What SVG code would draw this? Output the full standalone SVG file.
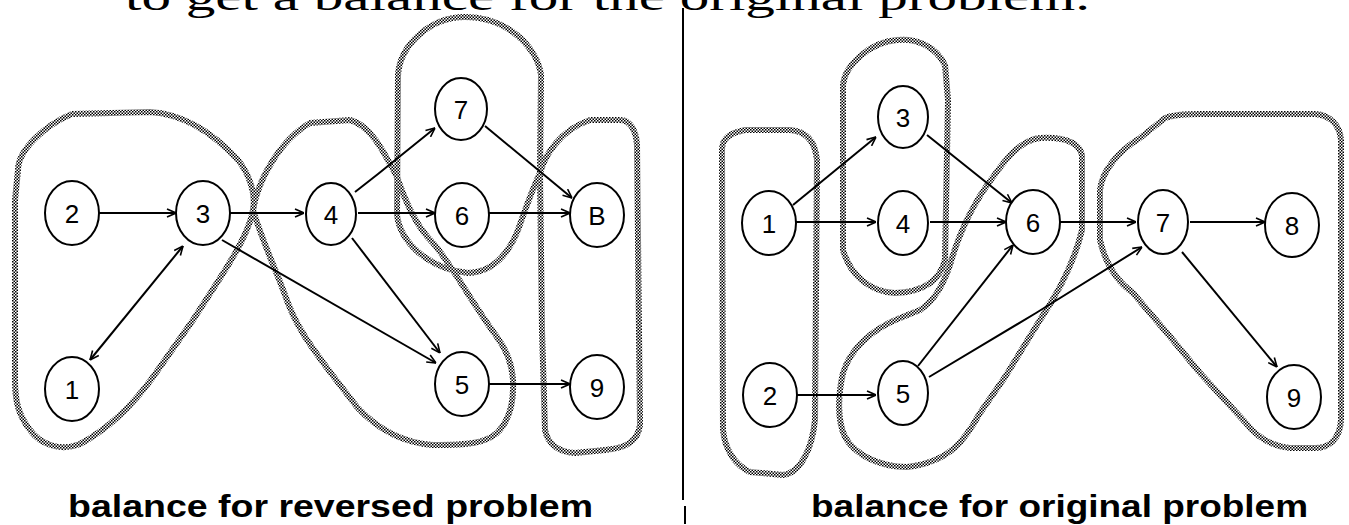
<svg xmlns="http://www.w3.org/2000/svg" width="1349" height="525" viewBox="0 0 1349 525">
<style>
.blob{fill:none;stroke:url(#chk);stroke-width:6;stroke-linejoin:round;stroke-linecap:round}
.edge{fill:none;stroke:#000;stroke-width:2;marker-end:url(#ah)}
.node ellipse{fill:#fff;stroke:#000;stroke-width:2}
.node text{font-family:"Liberation Sans",Arial,sans-serif;font-size:26px;text-anchor:middle;fill:#000}
.cap{font-family:"Liberation Sans",Arial,sans-serif;font-weight:bold;font-size:32px;fill:#000}
.top{font-family:"Liberation Serif","Times New Roman",serif;font-size:38px;fill:#000}
</style>
<defs>
<pattern id="chk" width="3" height="3" patternUnits="userSpaceOnUse">
<rect width="3" height="3" fill="#fff"/>
<rect width="1.5" height="1.5" fill="#000"/>
<rect x="1.5" y="1.5" width="1.5" height="1.5" fill="#000"/>
</pattern>
<marker id="ah" viewBox="0 0 10 10" refX="10" refY="5" markerWidth="10" markerHeight="10" markerUnits="userSpaceOnUse" orient="auto-start-reverse">
<path d="M1,1 L10,5 L1,9" fill="none" stroke="#000" stroke-width="1.6"/>
</marker>
</defs>
<rect width="1349" height="525" fill="#fff"/>
<text class="top" x="125" y="10" textLength="965" lengthAdjust="spacingAndGlyphs">to get a balance for the original problem.</text>
<g id="separator">
<line x1="683" y1="8" x2="683" y2="500" stroke="#000" stroke-width="2"/>
<line x1="685" y1="506" x2="685" y2="524" stroke="#000" stroke-width="2"/>
</g>
<g id="groups">
<path class="blob" d="M18,170 C18,150 45,125 72,114 L150,112 C185,114 215,135 238,160 C250,175 256,195 253,210 C248,240 215,285 193,320 L153,377 C135,402 110,428 80,444 C60,452 40,444 30,430 C18,415 15,400 15,380 L15,200 Z"/>
<path class="blob" d="M253,210 C258,180 280,140 310,123 L350,120 C370,125 383,150 397,177 C405,200 415,225 433,243 C450,262 470,300 497,337 C505,348 512,362 513,380 C514,400 510,420 497,433 C485,443 470,445 433,445 C405,443 380,432 357,407 L330,372 C310,345 295,325 285,295 C275,268 262,240 253,210 Z"/>
<path class="blob" d="M540,173 L541,75 C538,50 510,17 465,17 C430,17 400,45 398,75 L397,215 C400,240 425,268 468,273 C495,272 510,250 518,230 C525,210 532,190 540,173 Z"/>
<path class="blob" d="M540,173 C545,155 560,130 590,120 L620,120 C630,120 636,130 637,145 L640,425 C638,440 628,448 605,450 L575,453 C560,452 548,445 545,430 L542,330 Z"/>
<path class="blob" d="M722,150 C722,138 730,133 745,130 L790,130 C805,131 815,140 817,160 L815,420 C812,450 800,473 783,475 L750,472 C735,465 725,450 723,430 Z"/>
<path class="blob" d="M843,85 C845,65 870,42 897,40 C915,38 935,45 945,65 L948,100 L945,260 C940,280 925,292 895,293 C870,292 850,275 843,250 Z"/>
<path class="blob" d="M1040,138 C1060,137 1078,140 1082,155 L1082,230 C1075,260 1060,290 1040,320 L1005,377 L980,413 C965,440 950,462 907,467 C880,467 855,455 845,437 C837,420 838,395 843,373 C850,350 870,330 900,318 L920,310 C935,300 943,285 950,265 C957,240 968,210 993,177 C1005,160 1020,140 1040,138 Z"/>
<path class="blob" d="M1100,190 C1102,170 1120,150 1140,138 L1165,118 C1175,114 1190,114 1200,114 L1315,114 C1330,115 1340,125 1341,140 L1341,420 C1340,438 1330,448 1315,448 L1290,448 C1270,446 1255,435 1245,422 L1200,373 L1167,333 L1133,293 C1115,280 1105,262 1100,240 Z"/>
</g>
<g id="connectors">
<path class="edge" d="M99,213 L176,213"/>
<path class="edge" d="M230,213 L304,213"/>
<path class="edge" d="M358,213 L435,213"/>
<path class="edge" d="M489,213 L570,213"/>
<path class="edge" d="M355,192 L378,174 L435,128"/>
<path class="edge" d="M485,126 L572,198"/>
<path class="edge" d="M222,240 L436,363"/>
<path class="edge" d="M352,238 L440,353"/>
<path class="edge" d="M489,384 L570,384"/>
<path class="edge" d="M90,360 L183,246" marker-start="url(#ah)"/>
<path class="edge" d="M793,205 L876,137"/>
<path class="edge" d="M796,222 L876,222"/>
<path class="edge" d="M927,135 L1012,203"/>
<path class="edge" d="M930,222 L1006,222"/>
<path class="edge" d="M918,366 L1013,245"/>
<path class="edge" d="M1060,222 L1136,222"/>
<path class="edge" d="M929,377 L1036,313 L1142,247"/>
<path class="edge" d="M1190,222 L1265,222"/>
<path class="edge" d="M1182,252 L1277,367"/>
<path class="edge" d="M797,395 L876,395"/>
</g>
<g id="L-n2" class="node"><ellipse cx="72" cy="213" rx="27" ry="32"/><text x="72" y="223">2</text></g>
<g id="L-n3" class="node"><ellipse cx="203" cy="213" rx="27" ry="32"/><text x="203" y="223">3</text></g>
<g id="L-n4" class="node"><ellipse cx="331" cy="214" rx="25" ry="31"/><text x="331" y="224">4</text></g>
<g id="L-n6" class="node"><ellipse cx="462" cy="215" rx="27" ry="32"/><text x="462" y="225">6</text></g>
<g id="L-n8" class="node"><ellipse cx="597" cy="215" rx="27" ry="32"/><text x="597" y="225">B</text></g>
<g id="L-n7" class="node"><ellipse cx="461" cy="109" rx="26" ry="31"/><text x="461" y="119">7</text></g>
<g id="L-n1" class="node"><ellipse cx="72" cy="389" rx="27" ry="32"/><text x="72" y="399">1</text></g>
<g id="L-n5" class="node"><ellipse cx="462" cy="384" rx="27" ry="32"/><text x="462" y="394">5</text></g>
<g id="L-n9" class="node"><ellipse cx="597" cy="387" rx="27" ry="32"/><text x="597" y="397">9</text></g>
<g id="R-n1" class="node"><ellipse cx="769" cy="223" rx="27" ry="32"/><text x="769" y="233">1</text></g>
<g id="R-n3" class="node"><ellipse cx="903" cy="117" rx="25" ry="31"/><text x="903" y="127">3</text></g>
<g id="R-n4" class="node"><ellipse cx="903" cy="223" rx="25" ry="32"/><text x="903" y="233">4</text></g>
<g id="R-n6" class="node"><ellipse cx="1033" cy="222" rx="27" ry="32"/><text x="1033" y="232">6</text></g>
<g id="R-n7" class="node"><ellipse cx="1163" cy="222" rx="25" ry="32"/><text x="1163" y="232">7</text></g>
<g id="R-n8" class="node"><ellipse cx="1292" cy="225" rx="27" ry="32"/><text x="1292" y="235">8</text></g>
<g id="R-n2" class="node"><ellipse cx="770" cy="395" rx="27" ry="32"/><text x="770" y="405">2</text></g>
<g id="R-n5" class="node"><ellipse cx="903" cy="393" rx="25" ry="32"/><text x="903" y="403">5</text></g>
<g id="R-n9" class="node"><ellipse cx="1294" cy="397" rx="27" ry="32"/><text x="1294" y="407">9</text></g>
<text class="cap" x="68" y="517" textLength="525" lengthAdjust="spacingAndGlyphs">balance for reversed problem</text>
<text class="cap" x="811" y="517" textLength="497" lengthAdjust="spacingAndGlyphs">balance for original problem</text>
</svg>
